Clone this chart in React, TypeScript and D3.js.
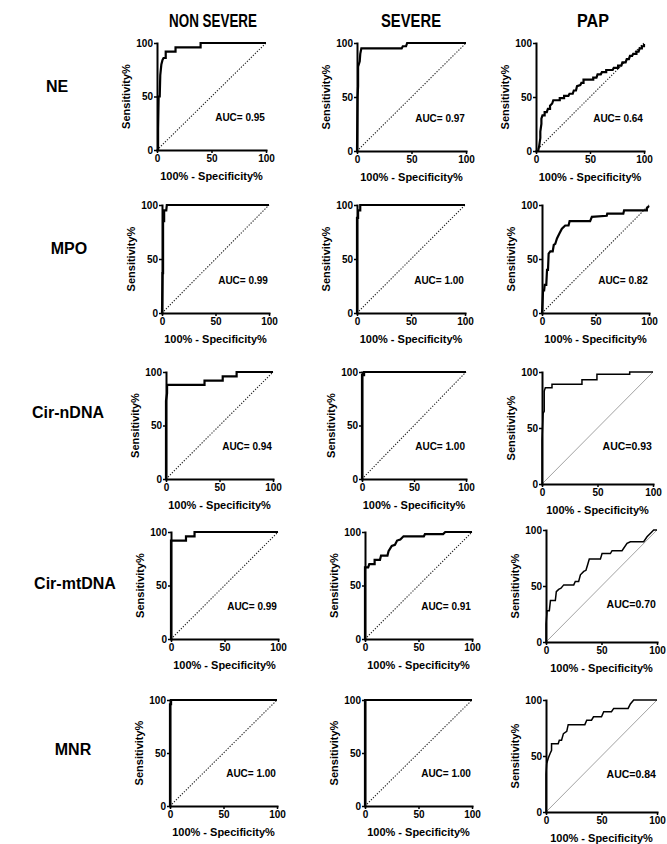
import React, { useEffect, useRef } from "react";
import * as d3 from "d3";

// ---------- DATA ----------
const columnNames = ["NON SEVERE", "SEVERE", "PAP"];
const markerNames = ["NE", "MPO", "Cir-nDNA", "Cir-mtDNA", "MNR"];
const axisTicks = [0, 50, 100];
const xAxisTitle = "100% - Specificity%";
const yAxisTitle = "Sensitivity%";

const aucValues = [
  [0.95, 0.97, 0.64],
  [0.99, 1.0, 0.82],
  [0.94, 1.0, 0.93],
  [0.99, 0.91, 0.7],
  [1.0, 1.0, 0.84],
];

type Pt = [number, number];

const neNonSevere: Pt[] = [
  [0, 0], [1, 0], [1, 20], [1.5, 50], [2.5, 50], [3, 70], [4, 80], [5, 84], [6, 86], [8, 86],
  [8, 92], [17, 92], [17, 96], [40, 96], [40, 100], [100, 100],
];
const neSevere: Pt[] = [
  [0, 0], [0.5, 50], [1, 60], [1, 78], [2.5, 83], [3, 90], [4, 95], [41, 95], [42, 97], [45, 97],
  [46, 100], [100, 100],
];
const nePap: Pt[] = [
  [0, 0], [2, 0], [3, 5], [4, 12], [4, 18], [5, 25], [5, 30], [6, 33], [8, 33], [8, 36], [10, 36],
  [11, 39], [13, 39], [13, 42], [15, 44], [16, 47], [22, 47], [22, 49], [26, 49], [26, 51], [30, 51],
  [31, 53], [34, 53], [35, 56], [37, 56], [38, 60], [41, 61], [42, 63], [44, 63], [44, 66], [53, 66],
  [53, 68], [56, 68], [57, 71], [60, 71], [61, 73], [65, 73], [65, 75], [71, 75], [72, 77], [76, 77],
  [76, 79], [79, 79], [80, 82], [83, 82], [84, 85], [86, 85], [87, 88], [89, 88], [90, 90], [93, 90],
  [93, 92], [95, 92], [96, 95], [98, 95], [98, 97], [100, 97], [100, 99],
];
const mpoNonSevere: Pt[] = [
  [0, 0], [0.5, 37], [1, 37], [1, 85], [2, 85], [2, 95], [4, 95], [4.5, 100], [100, 100],
];
const mpoSevere: Pt[] = [
  [0, 0], [0, 88], [1, 88], [1, 95], [3, 95], [3, 100], [100, 100],
];
const mpoPap: Pt[] = [
  [0, 0], [1, 21], [2, 21], [2.5, 26], [4, 26], [4.7, 40], [5.6, 40], [6.2, 55], [7.8, 57], [10, 57],
  [11, 63], [12.4, 64], [14, 69], [16.5, 74], [18.6, 78], [21.7, 81], [24.8, 81], [25.8, 85], [45, 85],
  [46.6, 89], [60.5, 90], [61, 92], [76, 92], [76.7, 95], [98, 95], [98, 97], [100, 99],
];
const cirnNonSevere: Pt[] = [
  [0, 0], [0, 73], [1, 80], [1, 88], [36, 88], [36, 92], [53, 92], [53, 96], [66, 96], [66, 100],
  [100, 100],
];
const cirnSevere: Pt[] = [
  [0, 0], [0, 97], [2, 97], [2, 100], [100, 100],
];
const cirnPap: Pt[] = [
  [0, 0], [0, 39], [1, 63], [2, 65], [2, 83], [3, 86], [9, 86], [9, 89], [36, 89], [36, 93],
  [49.5, 93], [49.5, 98], [79, 98], [79, 100], [100, 100],
];
const cirmtNonSevere: Pt[] = [
  [0, 0], [0, 92], [14, 92], [14, 96], [22, 96], [22, 100], [100, 100],
];
const cirmtSevere: Pt[] = [
  [0, 0], [0, 67], [3, 67], [4, 70], [9, 70], [9, 74], [14, 74], [15, 78], [21, 78], [22, 82],
  [25, 87], [28, 88], [30, 92], [33, 93], [36, 96], [55, 96], [56, 98], [73, 98], [75, 100],
  [100, 100],
];
const cirmtPap: Pt[] = [
  [0, 0], [0, 16], [1, 28], [3, 28], [4, 37], [8.4, 37], [9.3, 45], [11.4, 47], [13.5, 48], [16, 51],
  [25, 51], [26.4, 54], [29.4, 54], [31, 60], [34, 63], [36, 64], [37.5, 69], [39, 74], [49, 74],
  [50.5, 79], [58, 79], [59.5, 81.5], [68.5, 81.5], [73, 88], [76, 89.5], [88, 89.5], [91, 94],
  [94.6, 97.6], [97, 100], [100, 100],
];
const mnrNonSevere: Pt[] = [
  [0, 0], [0, 96], [1, 96], [1, 100], [100, 100],
];
const mnrSevere: Pt[] = [
  [0, 0], [0, 100], [100, 100],
];
const mnrPap: Pt[] = [
  [0, 0], [0, 34], [0.6, 43], [2, 48], [3.6, 52], [5, 55], [5, 61], [11, 61], [12, 64], [14, 64],
  [15.7, 70], [18.7, 72], [20, 78], [35, 78], [36.7, 82], [41, 82], [42.8, 85], [50, 85], [52, 89.5],
  [59, 89.5], [61, 92.5], [74, 92.5], [76, 96.4], [79, 100], [100, 100],
];

const curves: Pt[][][] = [
  [neNonSevere, neSevere, nePap],
  [mpoNonSevere, mpoSevere, mpoPap],
  [cirnNonSevere, cirnSevere, cirnPap],
  [cirmtNonSevere, cirmtSevere, cirmtPap],
  [mnrNonSevere, mnrSevere, mnrPap],
];

// ---------- LAYOUT ----------
type Box = { x: number; y: number; w: number; h: number };
const panelBoxes: Box[][] = [
  [
    { x: 157, y: 43, w: 109, h: 107 },
    { x: 357, y: 43, w: 109, h: 108 },
    { x: 536, y: 43, w: 108, h: 108 },
  ],
  [
    { x: 162, y: 205, w: 107, h: 108 },
    { x: 357, y: 205, w: 108, h: 108 },
    { x: 542, y: 205, w: 107, h: 108 },
  ],
  [
    { x: 166, y: 372, w: 107, h: 107 },
    { x: 362, y: 372, w: 104, h: 107 },
    { x: 542, y: 372, w: 111, h: 112 },
  ],
  [
    { x: 171, y: 532, w: 107, h: 107 },
    { x: 365, y: 532, w: 107, h: 107 },
    { x: 546, y: 530, w: 111, h: 112 },
  ],
  [
    { x: 170, y: 700, w: 107, h: 106 },
    { x: 365, y: 700, w: 107, h: 106 },
    { x: 546, y: 700, w: 111, h: 112 },
  ],
];
const columnHeaderPos = [
  { x: 213, y: 27, len: 88 },
  { x: 411, y: 27, len: 60 },
  { x: 593, y: 27, len: 32 },
];
const rowLabelPos = [
  { x: 57, y: 92 },
  { x: 69, y: 254 },
  { x: 68, y: 418 },
  { x: 75, y: 589 },
  { x: 73, y: 755 },
];

const FONT = "'Liberation Sans', Arial, Helvetica, sans-serif";

function Panel({ box, data, auc, light }: { box: Box; data: Pt[]; auc: number; light: boolean }) {
  const gx = useRef<SVGGElement>(null);
  const gy = useRef<SVGGElement>(null);
  const x = d3.scaleLinear().domain([0, 100]).range([0, box.w]);
  const y = d3.scaleLinear().domain([0, 100]).range([box.h, 0]);

  useEffect(() => {
    const ax = d3.axisBottom(x).tickValues(axisTicks).tickSize(3).tickSizeOuter(0).tickPadding(2)
      .tickFormat(d3.format("d"));
    const ay = d3.axisLeft(y).tickValues(axisTicks).tickSize(3).tickSizeOuter(0).tickPadding(1)
      .tickFormat(d3.format("d"));
    const sx = d3.select(gx.current!).call(ax as any);
    const sy = d3.select(gy.current!).call(ay as any);
    [sx, sy].forEach((s) => {
      s.select(".domain").attr("stroke", "#000").attr("stroke-width", 2).attr("stroke-linecap", "square");
      s.selectAll(".tick line").attr("stroke", "#000").attr("stroke-width", 1.5);
      s.selectAll(".tick text")
        .attr("fill", "#000")
        .style("font-family", FONT)
        .style("font-weight", "bold")
        .style("font-size", "10px");
      s.attr("font-family", null).attr("font-size", null);
    });
  });

  const line = d3.line<Pt>().x((d) => x(d[0])).y((d) => y(d[1]));
  const label = light ? `AUC=${auc.toFixed(2)}` : `AUC= ${auc.toFixed(2)}`;

  return (
    <g transform={`translate(${box.x},${box.y})`}>
      <line
        x1={x(0)} y1={y(0)} x2={x(100)} y2={y(100)}
        stroke={light ? "#8a8a8a" : "#222"}
        strokeWidth={light ? 0.8 : 1.1}
        strokeDasharray={light ? undefined : "1.3,1.5"}
      />
      <path d={line(data) || ""} fill="none" stroke="#000" strokeWidth={light ? 1.5 : 2.2}
        strokeLinejoin="miter" strokeMiterlimit={2} />
      <g ref={gx} transform={`translate(0,${box.h})`} />
      <g ref={gy} />
      <text x={x(99)} y={y(light ? 30 : 27)} textAnchor="end" fontFamily={FONT} fontWeight="bold"
        fontSize={light ? 10.5 : 10}>{label}</text>
      <text x={box.w / 2} y={box.h + 30} textAnchor="middle" fontFamily={FONT} fontWeight="bold"
        fontSize={11}>{xAxisTitle}</text>
      <text transform={`translate(-27,${box.h / 2}) rotate(-90)`} textAnchor="middle"
        fontFamily={FONT} fontWeight="bold" fontSize={11}>{yAxisTitle}</text>
    </g>
  );
}

export default function App() {
  return (
    <svg width={667} height={844} style={{ position: "absolute", left: 0, top: 0, background: "#fff" }}>
      <rect width={667} height={844} fill="#fff" />
      {columnNames.map((c, i) => (
        <text key={c} x={columnHeaderPos[i].x} y={columnHeaderPos[i].y} textAnchor="middle"
          fontFamily={FONT} fontWeight="bold" fontSize={18}
          textLength={columnHeaderPos[i].len} lengthAdjust="spacingAndGlyphs">{c}</text>
      ))}
      {markerNames.map((m, i) => (
        <text key={m} x={rowLabelPos[i].x} y={rowLabelPos[i].y} textAnchor="middle"
          fontFamily={FONT} fontWeight="bold" fontSize={16}>{m}</text>
      ))}
      {curves.map((row, r) =>
        row.map((data, c) => (
          <Panel key={`${r}-${c}`} box={panelBoxes[r][c]} data={data} auc={aucValues[r][c]}
            light={c === 2 && r >= 2} />
        ))
      )}
    </svg>
  );
}
